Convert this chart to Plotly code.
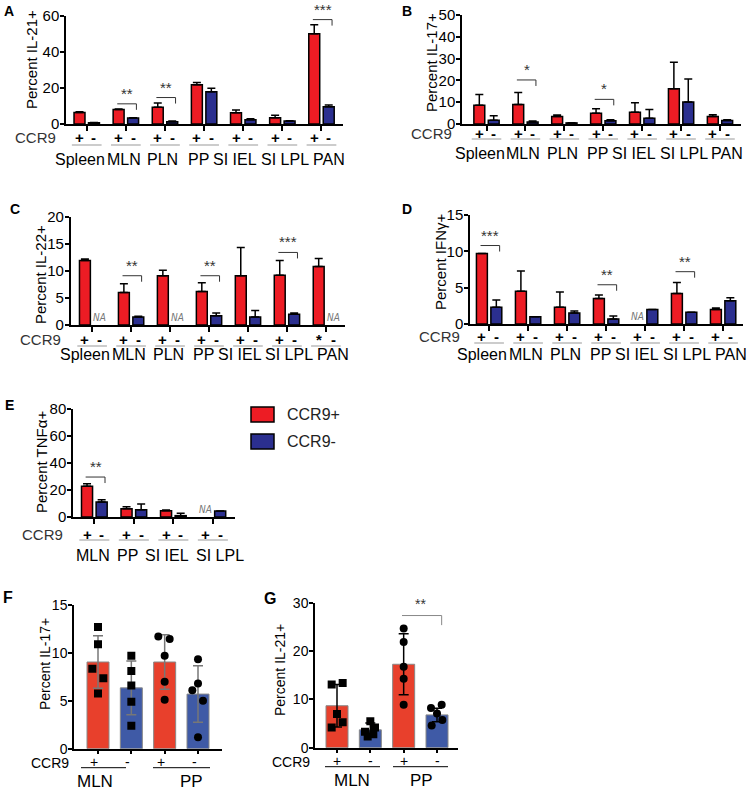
import plotly.graph_objects as go
import plotly.io as pio

pio.templates.default = "plotly_white"

W, H = 749, 791
FONT = "Liberation Sans, Arial, sans-serif"
RED, BLUE = "#ed1c24", "#2b2f8f"
RED2, BLUE2 = "#e8402c", "#3f5aa6"


def px(x):
    return x / W


def py(y):
    return 1 - y / H


# ---- data ----
tissues7 = ["Spleen", "MLN", "PLN", "PP", "SI IEL", "SI LPL", "PAN"]
tissues4 = ["MLN", "PP", "SI IEL", "SI LPL"]

# A: IL-21
il21_pos = [6.4, 8.1, 9.3, 21.8, 6.2, 3.5, 50.2]
il21_pos_err = [0.4, 0.3, 2.3, 1.3, 1.6, 1.3, 5.0]
il21_neg = [0.7, 3.3, 1.3, 17.9, 2.4, 1.7, 9.6]
il21_neg_err = [0.1, 0.2, 0.3, 2.0, 0.5, 0.1, 0.9]
il21_sig = [("MLN", 11.2, "**"), ("PLN", 14.7, "**"), ("PAN", 58.0, "***")]

# B: IL-17
il17_pos = [8.6, 9.0, 3.4, 4.9, 5.4, 16.2, 3.4]
il17_pos_err = [4.9, 5.4, 0.7, 2.1, 4.4, 12.1, 0.9]
il17_neg = [1.7, 0.9, 0.5, 1.5, 2.6, 10.1, 1.6]
il17_neg_err = [2.1, 0.5, 0.1, 0.5, 4.1, 10.5, 0.4]
il17_sig = [("MLN", 20.2, "*"), ("PP", 11.3, "*")]

# C: IL-22
il22_pos = [11.9, 6.0, 9.1, 6.2, 9.1, 9.2, 10.8]
il22_pos_err = [0.3, 1.6, 1.0, 1.6, 5.2, 2.7, 1.5]
il22_neg = [None, 1.5, None, 1.7, 1.5, 2.0, None]
il22_neg_err = [0, 0.1, 0, 0.5, 1.2, 0.2, 0]
il22_sig = [("MLN", 9.1, "**"), ("PP", 9.1, "**"), ("SI LPL", 13.4, "***")]
il22_na = [("Spleen", "-"), ("PLN", "-"), ("PAN", "-")]
il22_plus = ["+", "+", "+", "+", "+", "+", "*"]

# D: IFNg
ifng_pos = [9.7, 4.5, 2.3, 3.5, None, 4.2, 2.0]
ifng_pos_err = [0, 2.8, 2.1, 0.5, 0, 1.5, 0.2]
ifng_neg = [2.3, 1.0, 1.5, 0.7, 2.0, 1.6, 3.2]
ifng_neg_err = [1.0, 0, 0.3, 0.4, 0, 0, 0.4]
ifng_sig = [("Spleen", 10.8, "***"), ("PP", 5.4, "**"), ("SI LPL", 7.2, "**")]
ifng_na = [("SI IEL", "+")]

# E: TNFa
tnf_pos = [22.7, 6.2, 4.7, None]
tnf_pos_err = [2.0, 1.4, 0.5, 0]
tnf_neg = [11.1, 5.4, 1.0, 4.4]
tnf_neg_err = [1.7, 4.2, 1.7, 0]
tnf_sig = [("MLN", 29.6, "**")]
tnf_na = [("SI LPL", "+")]

# F / G: individual mice
fg_groups = ["MLN", "PP"]
fg_ccr9 = ["+", "-", "+", "-"]
fg_symbols = ["square", "square", "circle", "circle"]

f_mean = [9.05, 6.35, 9.05, 5.7]
f_sd = [2.75, 2.8, 2.85, 2.95]
f_points = [[12.7, 10.9, 8.35, 7.35, 5.75],
            [9.7, 8.1, 6.6, 4.9, 2.4],
            [11.7, 11.45, 9.7, 7.0, 5.1],
            [9.35, 6.8, 6.1, 5.0, 1.2]]
f_jitter = [[0, 0, -0.17, 0.16, 0],
            [0, 0, 0, 0, 0],
            [-0.19, 0.15, 0, 0, 0],
            [0, 0, -0.17, 0.15, 0]]

g_mean = [8.7, 3.7, 17.3, 6.8]
g_sd = [4.4, 1.4, 6.3, 1.4]
g_points = [[13.1, 13.4, 7.0, 5.3, 4.2],
            [5.5, 3.3, 4.2, 2.3, 2.8],
            [24.7, 21.9, 16.8, 14.3, 8.9],
            [8.25, 8.9, 7.1, 5.75, 4.6]]
g_jitter = [[-0.16, 0.17, 0, 0.17, -0.16],
            [0, -0.16, 0.14, -0.08, 0.09],
            [0, 0, 0, 0, 0],
            [-0.18, 0.14, 0, 0.16, -0.16]]
g_sig = [(2, 3, 27.4, "**")]

legend_names = ["CCR9+", "CCR9-"]

fig = go.Figure()
annotations = []
shapes = []


def names(n):
    s = "" if n == 1 else str(n)
    return "x" + s, "y" + s, "xaxis" + s, "yaxis" + s


def text(x, y, t, size=15, xref="paper", yref="paper", color="black", bold=False, **kw):
    d = dict(x=x, y=y, xref=xref, yref=yref, text="<b>" + t + "</b>" if bold else t,
             showarrow=False, xanchor="center", yanchor="middle",
             font=dict(family=FONT, size=size, color=color))
    d.update(kw)
    annotations.append(d)


def axes(n, box, xr, ymax, dtick, tickvals, ticklen_x, tick_size):
    x0, x1, ytop, yzero = box
    xa, ya, xk, yk = names(n)
    fig.update_layout(**{
        xk: dict(domain=[px(x0), px(x1)], range=xr, anchor=ya, showline=True,
                 linecolor="black", linewidth=1.5, tickmode="array", tickvals=tickvals,
                 ticks="outside", ticklen=ticklen_x, tickwidth=1.5, tickcolor="black",
                 showticklabels=False, showgrid=False, zeroline=False, automargin=False),
        yk: dict(domain=[py(yzero), py(ytop)], range=[0, ymax], dtick=dtick, anchor=xa,
                 showline=True, linecolor="black", linewidth=1.5, ticks="outside",
                 ticklen=4, tickwidth=1.5, tickcolor="black", showgrid=False,
                 zeroline=False, automargin=False, ticklabelstandoff=-2,
                 tickfont=dict(family=FONT, size=tick_size, color="black")),
    })


def bar_panel(n, letter, letter_xy, box, xr, ymax, dtick, ytitle, title_xy,
              tissues, pos, pos_err, neg, neg_err, sig, label_dx, na=(), offs=(13, 21, 35),
              plus=None):
    x0, x1, ytop, yzero = box
    xa, ya, xk, yk = names(n)
    idx = list(range(len(tissues)))
    plus = plus or ["+"] * len(idx)
    unit = (x1 - x0) / (xr[1] - xr[0])  # px per group

    fig.add_trace(go.Bar(
        x=[i - 0.185 for i in idx], y=pos, width=0.28, name="CCR9+", showlegend=False,
        marker=dict(color=RED, line=dict(color="black", width=1.5)),
        error_y=dict(type="data", array=pos_err, arrayminus=[0] * len(idx), symmetric=False,
                     color="black", thickness=1.5, width=4),
        xaxis=xa, yaxis=ya))
    fig.add_trace(go.Bar(
        x=[i + 0.185 for i in idx], y=neg, width=0.28, name="CCR9-", showlegend=False,
        marker=dict(color=BLUE, line=dict(color="black", width=1.5)),
        error_y=dict(type="data", array=neg_err, arrayminus=[0] * len(idx), symmetric=False,
                     color="black", thickness=1.5, width=4),
        xaxis=xa, yaxis=ya))
    axes(n, box, xr, ymax, dtick, idx, 5, 15)

    # significance brackets
    d = 6 * ymax / (yzero - ytop)
    for t, yv, stars in sig:
        i = tissues.index(t)
        shapes.append(dict(type="path", xref=xa, yref=ya,
                           path=f"M {i - 0.22},{yv} L {i + 0.27},{yv} L {i + 0.27},{yv - d}",
                           line=dict(color="#333", width=1)))
        text(i + 0.03, yv, stars, size=15, xref=xa, yref=ya, color="#333", yanchor="bottom")

    for t, sign in na:
        i = tissues.index(t)
        xi = i - 0.185 if sign == "+" else i + 0.185
        annotations.append(dict(x=xi, y=py(yzero - 8), xref=xa, yref="paper", text="<i>NA</i>",
                                showarrow=False, xanchor="center", yanchor="middle",
                                font=dict(family="Liberation Sans Narrow, DejaVu Sans Condensed, sans-serif",
                                          size=10, color="#777")))

    # CCR9 +/- row, underline, tissue names
    pm_dy, line_dy, tis_dy = offs
    text(px(x0 - 8), py(yzero + pm_dy), "CCR9", size=15, color="#333", xanchor="right")
    for i in idx:
        text(i - 0.185, py(yzero + pm_dy), plus[i], size=15, xref=xa, bold=True)
        text(i + 0.185, py(yzero + pm_dy), "-", size=15, xref=xa, bold=True)
        shapes.append(dict(type="line", xref=xa, yref="paper", x0=i - 0.38, x1=i + 0.38,
                           y0=py(yzero + line_dy), y1=py(yzero + line_dy),
                           line=dict(color="#999", width=1)))
        text(i + label_dx[i] / unit, py(yzero + tis_dy), tissues[i], size=16, xref=xa)

    text(px(title_xy[0]), py(title_xy[1]), ytitle, size=15, textangle=-90)
    text(px(letter_xy[0]), py(letter_xy[1]), letter, size=14, bold=True)


def dot_panel(n, letter, letter_xy, box, xr, ymax, dtick, ytitle, title_xy,
              mean, sd, points, jitter, err_color, group_x, line_x, pm_shift=0.0, sig=()):
    x0, x1, ytop, yzero = box
    xa, ya, xk, yk = names(n)
    idx = list(range(len(mean)))
    fig.add_trace(go.Bar(
        x=idx, y=mean, width=0.66, showlegend=False,
        marker=dict(color=[RED2, BLUE2, RED2, BLUE2], line=dict(color="#888", width=1)),
        error_y=dict(type="data", array=sd, color=err_color, thickness=1.5, width=5),
        xaxis=xa, yaxis=ya))
    for i in idx:
        fig.add_trace(go.Scatter(
            x=[i + j for j in jitter[i]], y=points[i], mode="markers", showlegend=False,
            marker=dict(symbol=fg_symbols[i], size=8, color="black"),
            xaxis=xa, yaxis=ya))
    axes(n, box, xr, ymax, dtick, idx, 4, 14)

    d = 6 * ymax / (yzero - ytop)
    for a, b, yv, stars in sig:
        shapes.append(dict(type="path", xref=xa, yref=ya,
                           path=f"M {a - 0.05},{yv} L {b + 0.14},{yv} L {b + 0.14},{yv - 1.6 * d}",
                           line=dict(color="#888", width=1)))
        text((a + b) / 2, yv, stars, size=14, xref=xa, yref=ya, color="#333",
             yanchor="bottom", yshift=2)

    text(px(x0 - 3), py(yzero + 14), "CCR9", size=14, xanchor="right")
    for i in idx:
        text(i + pm_shift, py(yzero + 13), fg_ccr9[i], size=14, xref=xa)
    for k, g in enumerate(fg_groups):
        shapes.append(dict(type="line", xref=xa, yref="paper", x0=line_x[k][0], x1=line_x[k][1],
                           y0=py(yzero + 19), y1=py(yzero + 19),
                           line=dict(color="black", width=1)))
        text(group_x[k], py(yzero + 33), g, size=17, xref=xa)

    text(px(title_xy[0]), py(title_xy[1]), ytitle, size=14, textangle=-90)
    text(px(letter_xy[0]), py(letter_xy[1]), letter, size=16, bold=True)


dx7 = [-7, -2, -2, -6, -8, 2.5, 7.5]
bar_panel(1, "A", (9, 11), (66, 343, 16, 124), [-0.53, 6.55], 60, 20, "Percent IL-21+",
          (32, 60), tissues7, il21_pos, il21_pos_err, il21_neg, il21_neg_err, il21_sig, dx7,
          offs=(13, 21, 35))
bar_panel(2, "B", (407, 11), (462, 741, 15, 124), [-0.63, 6.54], 50, 10, "Percent IL-17+",
          (431, 63), tissues7, il17_pos, il17_pos_err, il17_neg, il17_neg_err, il17_sig, dx7,
          offs=(9, 15, 30))
bar_panel(3, "C", (15, 209), (70.7, 345, 216.7, 325), [-0.55, 6.49], 20, 5, "Percent IL-22+",
          (40, 275), tissues7, il22_pos, il22_pos_err, il22_neg, il22_neg_err, il22_sig, dx7,
          na=il22_na, offs=(14, 21, 30), plus=il22_plus)
bar_panel(4, "D", (407, 209), (470, 743, 215, 324), [-0.49, 6.51], 15, 5, "Percent IFNγ+",
          (440, 262), tissues7, ifng_pos, ifng_pos_err, ifng_neg, ifng_neg_err, ifng_sig, dx7,
          na=ifng_na, offs=(13, 19, 30))
bar_panel(5, "E", (9, 405), (73, 235, 409, 517), [-0.54, 3.56], 80, 20, "Percent TNFα+",
          (41, 462), tissues4, tnf_pos, tnf_pos_err, tnf_neg, tnf_neg_err, tnf_sig,
          [-1, -6, -6, 7], na=tnf_na, offs=(17, 23, 38))

dot_panel(6, "F", (8, 597), (74, 222, 605, 748.7), [-0.72, 3.72], 15, 5, "Percent IL-17+",
          (45, 664), f_mean, f_sd, f_points, f_jitter, "#777",
          group_x=[-0.1, 2.79], line_x=[(-0.51, 0.84), (1.65, 3.36)], pm_shift=-0.12)
dot_panel(7, "G", (270, 598), (315, 458, 603, 747.7), [-0.66, 3.63], 30, 10, "Percent IL-21+",
          (280, 670), g_mean, g_sd, g_points, g_jitter, "black",
          group_x=[0.45, 2.52], line_x=[(-0.36, 1.29), (1.68, 3.33)], sig=g_sig)

# key (CCR9+ / CCR9-) next to panel E
for k, (nm, col) in enumerate(zip(legend_names, [RED, BLUE])):
    top = 407 + 27 * k
    shapes.append(dict(type="rect", xref="paper", yref="paper",
                       x0=px(251), x1=px(274), y0=py(top + 15), y1=py(top),
                       fillcolor=col, line=dict(color="black", width=1.5)))
    text(px(285), py(top + 7.5), nm, size=16, color="#222", xanchor="left")

fig.update_layout(
    width=W, height=H, autosize=False,
    margin=dict(l=0, r=0, t=0, b=0, pad=0, autoexpand=False),
    paper_bgcolor="white", plot_bgcolor="white",
    barmode="overlay", showlegend=False,
    font=dict(family=FONT, color="black"),
    annotations=annotations, shapes=shapes,
)

# the page body has an 8px default margin; drop it so the figure sits at 0,0
fig.write_html("out.html", config={"displayModeBar": False},
               post_script="document.body.style.margin='0';")
